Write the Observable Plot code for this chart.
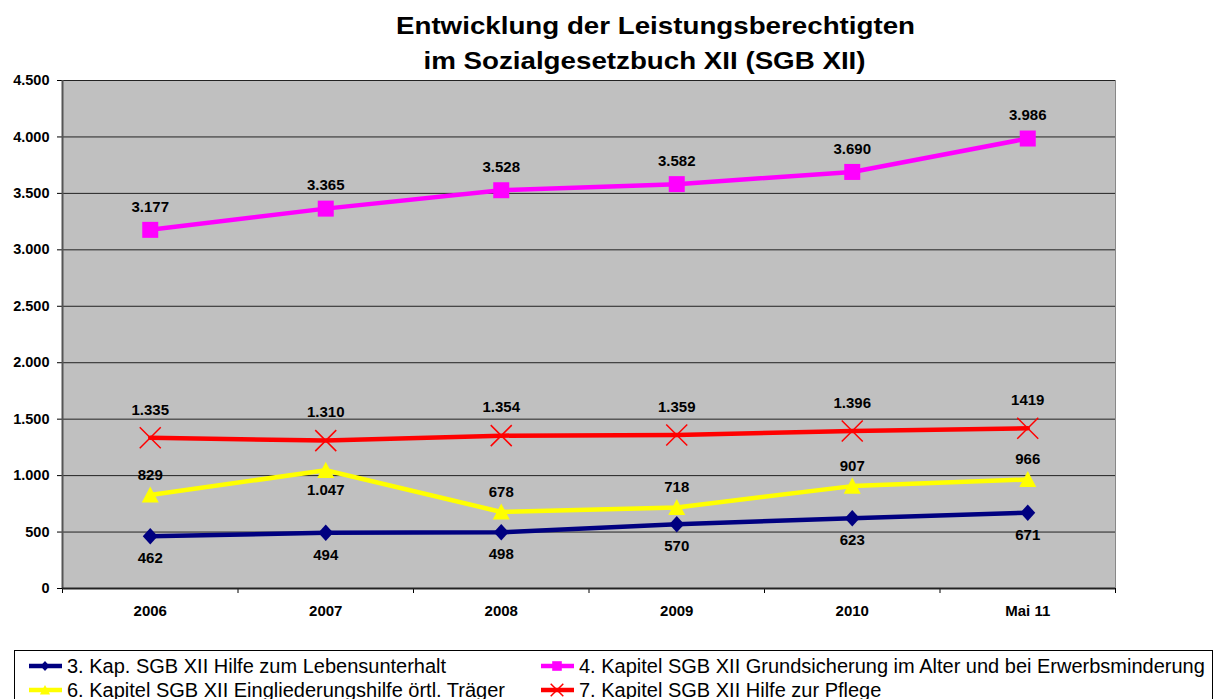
<!DOCTYPE html>
<html><head><meta charset="utf-8">
<script src="https://cdn.jsdelivr.net/npm/d3@7"></script>
<script src="https://cdn.jsdelivr.net/npm/@observablehq/plot@0.6"></script>
<style>
body{margin:0;background:#fff;font-family:"Liberation Sans",Arial,sans-serif;}
#wrap{position:relative;width:1218px;height:699px;overflow:hidden;background:#fff;}
.tline{position:absolute;left:0;text-align:center;font-weight:bold;font-size:24px;line-height:35px;color:#000;transform:scaleX(1.155);transform-origin:center;}
#chart{position:absolute;left:0;top:0;}
#legend{position:absolute;left:14px;top:650px;width:1199px;height:70px;border:1px solid #000;box-sizing:border-box;background:#fff;}
.item{position:absolute;display:flex;align-items:center;font-size:20px;color:#000;white-space:nowrap;height:24px;}
.item svg{margin-right:3px;}
</style></head>
<body><div id="wrap">
<div id="chart"></div>
<div class="tline" id="t1" style="top:8px;width:1311px;">Entwicklung der Leistungsberechtigten</div>
<div class="tline" id="t2" style="top:43px;width:1289px;">im Sozialgesetzbuch XII (SGB XII)</div>
<div id="legend"></div>
</div>
<script>
// ---- data ----
const categories = ["2006", "2007", "2008", "2009", "2010", "Mai 11"];
const seriesNames = [
  "3. Kap. SGB XII Hilfe zum Lebensunterhalt",
  "4. Kapitel SGB XII Grundsicherung im Alter und bei Erwerbsminderung",
  "6. Kapitel SGB XII Eingliederungshilfe örtl. Träger",
  "7. Kapitel SGB XII Hilfe zur Pflege"
];
const kap3 = [462, 494, 498, 570, 623, 671];
const kap4 = [3177, 3365, 3528, 3582, 3690, 3986];
const kap6 = [829, 1047, 678, 718, 907, 966];
const kap7 = [1335, 1310, 1354, 1359, 1396, 1419];
const kap3Labels = ["462", "494", "498", "570", "623", "671"];
const kap4Labels = ["3.177", "3.365", "3.528", "3.582", "3.690", "3.986"];
const kap6Labels = ["829", "1.047", "678", "718", "907", "966"];
const kap7Labels = ["1.335", "1.310", "1.354", "1.359", "1.396", "1419"];
const yTicks = [0, 500, 1000, 1500, 2000, 2500, 3000, 3500, 4000, 4500];

// ---- symbols (half-extent = Plot r) ----
const H = s => Math.sqrt(s / Math.PI);
const diamond = {draw(c, s){const h = H(s); c.moveTo(0, -h*1.1); c.lineTo(h, 0); c.lineTo(0, h*1.1); c.lineTo(-h, 0); c.closePath();}};
const square = {draw(c, s){const h = H(s); c.rect(-h, -h, 2*h, 2*h);}};
const triangle = {draw(c, s){const h = H(s); c.moveTo(0, -h); c.lineTo(h, h*0.9); c.lineTo(-h, h*0.9); c.closePath();}};
const times = {draw(c, s){const h = H(s); c.moveTo(-h, -h); c.lineTo(h, h); c.moveTo(h, -h); c.lineTo(-h, h);}};

const colors = ["#000080", "#FF00FF", "#FFFF00", "#FF0000"];
const styles = [
  {vals: kap3, labels: kap3Labels, color: colors[0], sym: diamond, r: 7.5},
  {vals: kap4, labels: kap4Labels, color: colors[1], sym: square, r: 8},
  {vals: kap6, labels: kap6Labels, color: colors[2], sym: triangle, r: 8.5},
  {vals: kap7, labels: kap7Labels, color: colors[3], sym: times, r: 10.5}
];
const rows = styles.map((s, k) => s.vals.map((v, i) => ({k, i, x: i + 0.5, cat: categories[i], v, label: s.labels[i]})));

const loc = d3.formatLocale({decimal: ",", thousands: ".", grouping: [3], currency: ["", "€"]});
const fmt = loc.format(",");

const marks = [
  Plot.frame({fill: "#C0C0C0", stroke: "#888"}),
  Plot.ruleY(yTicks.filter(d => d > 0), {stroke: "#222", strokeWidth: 1}),
  Plot.axisY({ticks: yTicks, tickFormat: fmt, tickSize: 5, tickPadding: 8, fontSize: 14.5, fontWeight: "bold", label: null}),
  Plot.axisX({ticks: d3.range(0, 7), tickFormat: () => "", tickSize: 5, label: null}),
  Plot.axisX({ticks: categories.map((c, i) => i + 0.5), tickFormat: d => categories[Math.floor(d)], tickSize: 0, tickPadding: 17, fontSize: 15, fontWeight: "bold", label: null}),
  Plot.ruleX([0], {stroke: "#555", strokeWidth: 2}),
  Plot.ruleY([0], {stroke: "#222", strokeWidth: 2})
];
styles.forEach((s, k) => {
  marks.push(Plot.line(rows[k], {x: "x", y: "v", stroke: s.color, strokeWidth: 4.5}));
});
styles.forEach((s, k) => {
  const isX = s.sym === times;
  marks.push(Plot.dot(rows[k], {x: "x", y: "v", symbol: s.sym, r: s.r,
    fill: isX ? "none" : s.color, stroke: s.color, strokeWidth: isX ? 1.5 : 0}));
});
const lbl = {x: "x", y: "v", text: "label", fontSize: 15, fontWeight: "bold", fill: "#000"};
// the 2007 value of Kap. 6 (local peak) is labelled below its point, all others above
const isPeak = d => d.i > 0 && d.i < kap6.length - 1 && d.v > kap6[d.i - 1] && d.v > kap6[d.i + 1];
marks.push(Plot.text(rows[0], {...lbl, dy: 22}));
marks.push(Plot.text(rows[1], {...lbl, dy: -23}));
marks.push(Plot.text(rows[2].filter(d => !isPeak(d)), {...lbl, dy: -20}));
marks.push(Plot.text(rows[2].filter(isPeak), {...lbl, dy: 20}));
marks.push(Plot.text(rows[3], {...lbl, dy: -28}));

const chart = Plot.plot({
  width: 1218, height: 640,
  marginTop: 80, marginBottom: 52, marginLeft: 62, marginRight: 103,
  style: {fontFamily: "'Liberation Sans', Arial, sans-serif", background: "transparent", color: "#000"},
  x: {domain: [0, 6], axis: null},
  y: {domain: [0, 4500], axis: null},
  marks
});
document.getElementById("chart").appendChild(chart);

// ---- legend ----
const legend = document.getElementById("legend");
const pos = [[12, 3], [524, 3], [12, 27], [524, 27]];
[0, 1, 2, 3].forEach((k, j) => {
  const s = styles[k];
  const div = document.createElement("div");
  div.className = "item";
  div.style.left = pos[j][0] + "px";
  div.style.top = pos[j][1] + "px";
  const svg = d3.create("svg").attr("width", 37).attr("height", 20);
  svg.append("line").attr("x1", 2).attr("x2", 35).attr("y1", 10).attr("y2", 10).attr("stroke", s.color).attr("stroke-width", 4.5);
  const isX = s.sym === times;
  svg.append("path").attr("transform", "translate(18,10)")
    .attr("d", d3.symbol(s.sym, Math.PI * (s.r * 0.6) ** 2)())
    .attr("fill", isX ? "none" : s.color).attr("stroke", s.color).attr("stroke-width", isX ? 1.5 : 0);
  div.appendChild(svg.node());
  div.appendChild(document.createTextNode(seriesNames[k]));
  legend.appendChild(div);
});
</script>
</body></html>
